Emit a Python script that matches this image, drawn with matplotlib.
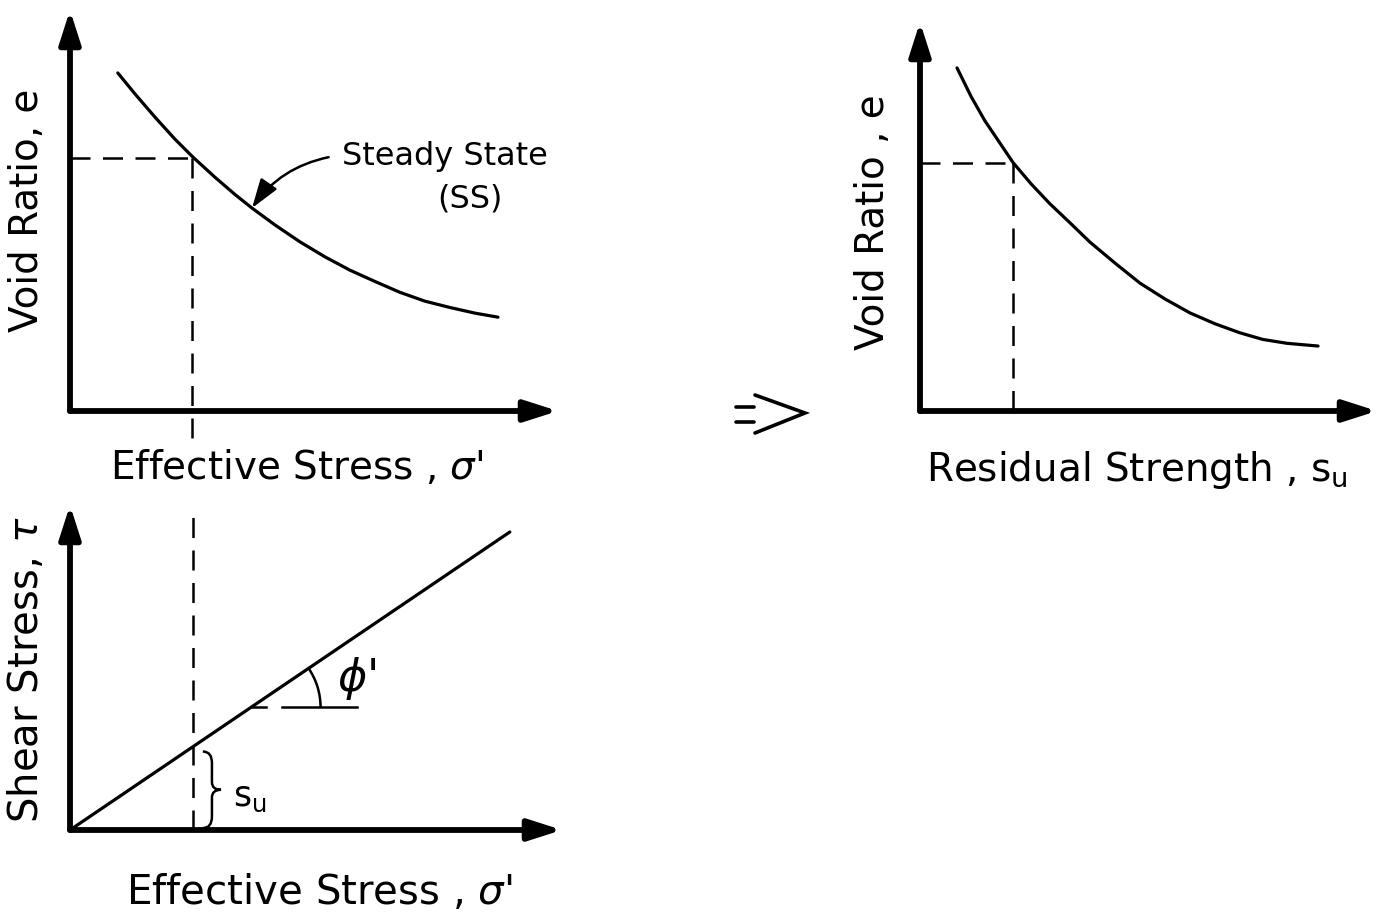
import numpy as np
import matplotlib.pyplot as plt
from matplotlib.patches import Arc, PathPatch
from matplotlib.path import Path

W, H = 1388, 919

# steady state line: void ratio vs effective stress
ss_sigma = [0.98, 1.33, 1.74, 2.15, 2.52, 2.97, 3.38, 3.73, 4.20, 4.71,
            5.23, 5.74, 6.25, 6.76, 7.27, 7.79, 8.30, 8.77]
ss_e = [8.43, 7.91, 7.33, 6.78, 6.33, 5.83, 5.40, 5.06, 4.64, 4.22,
        3.84, 3.51, 3.23, 2.96, 2.74, 2.58, 2.44, 2.34]

# same line against residual strength
res_su = [0.81, 1.12, 1.42, 1.73, 2.04, 2.43, 2.84, 3.28, 3.72, 4.27,
          4.81, 5.36, 5.91, 6.46, 7.00, 7.50, 8.03, 8.71]
res_e = [8.82, 8.08, 7.46, 6.92, 6.38, 5.84, 5.33, 4.84, 4.34, 3.80,
         3.29, 2.88, 2.52, 2.24, 2.01, 1.84, 1.74, 1.67]

# failure envelope tau vs sigma'
env_sigma = [0.0, 8.94]
env_tau = [0.0, 9.17]

# steady state point
sigma_ss = 2.5
e_ss = 6.31
su_ss = 2.04
e_ss_r = 6.38

# friction angle construction
phi_sigma = 3.69
phi_tau = 3.78
phi_ref = [(3.69, 3.98), (4.31, 5.83)]

LW_AX = 4.2
LW_CURVE = 2.3
LW_DASH = 1.8
DASH = (8, 5)

plt.rcParams['font.family'] = 'DejaVu Sans'
plt.rcParams['mathtext.fontset'] = 'dejavusans'

fig = plt.figure(figsize=(W / 100, H / 100), dpi=100)


def px_rect(x0, y0, x1, y1):
    # axes box from origin pixel (x0, y0) to arrow tips (x1, y1)
    return [x0 / W, (H - y0) / H, (x1 - x0) / W, (y0 - y1) / H]


def arrow_axes(ax):
    ax.set_xlim(0, 10)
    ax.set_ylim(0, 10)
    ax.axis('off')
    for end in [(1, 0), (0, 1)]:
        ax.annotate('', xy=end, xytext=(0, 0), xycoords='axes fraction',
                    arrowprops=dict(arrowstyle='-|>,head_length=1.0,head_width=0.32',
                                    lw=LW_AX, color='k', shrinkA=0, shrinkB=0,
                                    mutation_scale=20, joinstyle='round',
                                    capstyle='round'))


# overlay in pixel units for the lettering
ov = fig.add_axes([0, 0, 1, 1])
ov.set_xlim(0, W)
ov.set_ylim(H, 0)
ov.axis('off')

ax1 = fig.add_axes(px_rect(70, 411, 558, 10))
ax2 = fig.add_axes(px_rect(70, 830, 562, 505))
ax3 = fig.add_axes(px_rect(920, 411, 1377, 22))
for ax in (ax1, ax2, ax3):
    arrow_axes(ax)

# top left: e vs sigma'
ax1.plot(ss_sigma, ss_e, color='k', lw=LW_CURVE, solid_capstyle='round',
         solid_joinstyle='round')
ax1.plot([0, sigma_ss], [e_ss, e_ss], color='k', lw=LW_DASH, dashes=DASH)
ax1.plot([sigma_ss, sigma_ss], [e_ss, -0.75], color='k', lw=LW_DASH,
         dashes=DASH, clip_on=False)
ax1.annotate('', xy=(ss_sigma[7], ss_e[7]), xytext=(5.3, 6.33),
             arrowprops=dict(arrowstyle='-|>,head_length=0.9,head_width=0.3',
                             connectionstyle='arc3,rad=0.2', color='k',
                             lw=1.8, shrinkA=0, shrinkB=0, mutation_scale=20))

# bottom left: tau vs sigma'
ax2.plot(env_sigma, env_tau, color='k', lw=LW_CURVE, solid_capstyle='round')
ax2.plot([sigma_ss, sigma_ss], [0, 9.9], color='k', lw=LW_DASH, dashes=DASH,
         clip_on=False)
for a, b in phi_ref:
    ax2.plot([a, b], [phi_tau, phi_tau], color='k', lw=LW_DASH)
ang = np.degrees(np.arctan2(env_tau[1], env_sigma[1]))
ax2.add_patch(Arc((phi_sigma, phi_tau), 2 * 69 / 49.2, 2 * 69 / 32.5,
                  theta1=0, theta2=ang, color='k', lw=LW_DASH))

# brace marking s_u
tau_ss = sigma_ss * env_tau[1] / env_sigma[1]
bx, bw = sigma_ss + 0.2, 0.37
ytop, ybot = tau_ss - 0.15, 0.06
ymid = (ytop + ybot) / 2
h = ytop - ybot
verts = [(bx, ytop), (bx + bw / 2, ytop), (bx + bw / 2, ytop - 0.15 * h),
         (bx + bw / 2, ymid + 0.1 * h),
         (bx + bw / 2, ymid), (bx + bw, ymid),
         (bx + bw / 2, ymid), (bx + bw / 2, ymid - 0.1 * h),
         (bx + bw / 2, ybot + 0.15 * h),
         (bx + bw / 2, ybot), (bx, ybot)]
codes = [Path.MOVETO, Path.CURVE3, Path.CURVE3, Path.LINETO,
         Path.CURVE3, Path.CURVE3, Path.CURVE3, Path.CURVE3, Path.LINETO,
         Path.CURVE3, Path.CURVE3]
ax2.add_patch(PathPatch(Path(verts, codes), fill=False, lw=1.8, color='k'))

# right: e vs residual strength
ax3.plot(res_su, res_e, color='k', lw=LW_CURVE, solid_capstyle='round',
         solid_joinstyle='round')
ax3.plot([0, su_ss], [e_ss_r, e_ss_r], color='k', lw=LW_DASH, dashes=DASH)
ax3.plot([su_ss, su_ss], [e_ss_r, 0], color='k', lw=LW_DASH, dashes=DASH)

# lettering
ov.text(27, 210, 'Void Ratio, e', rotation=90, fontsize=28, ha='center', va='center')
ov.text(297, 467, "Effective Stress , $\\sigma$'", fontsize=28, ha='center', va='center')
ov.text(445, 157, 'Steady State', fontsize=23, ha='center', va='center')
ov.text(470, 199, '(SS)', fontsize=23, ha='center', va='center')
ov.text(27, 670, 'Shear Stress, $\\tau$', rotation=90, fontsize=29, ha='center', va='center')
ov.text(319, 893, "Effective Stress , $\\sigma$'", fontsize=29, ha='center', va='center')
ov.text(357, 678, "$\\phi$'", fontsize=32, ha='center', va='center')
ov.text(250, 797, '$\\mathregular{s_u}$', fontsize=25, ha='center', va='center')
ov.text(873, 222, 'Void Ratio , e', rotation=90, fontsize=28, ha='center', va='center')
ov.text(1137, 470, 'Residual Strength , $\\mathregular{s_u}$', fontsize=28,
        ha='center', va='center')

# implies sign between the panels
ov.plot([736, 754], [407, 407], color='k', lw=2.6, solid_capstyle='round')
ov.plot([736, 754], [422, 422], color='k', lw=2.6, solid_capstyle='round')
ov.plot([755, 805, 755], [395, 413, 433], color='k', lw=2.6,
        solid_capstyle='round', solid_joinstyle='miter')

fig.savefig('out.png', dpi=100, facecolor='white')
